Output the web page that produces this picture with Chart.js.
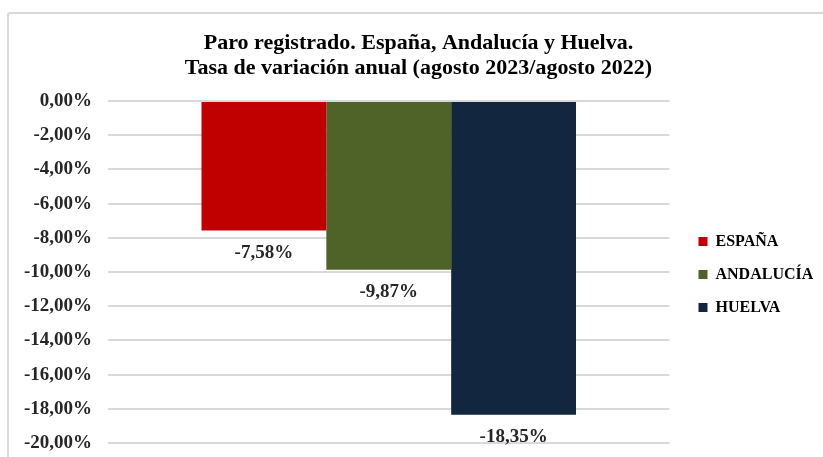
<!DOCTYPE html>
<html>
<head>
<meta charset="utf-8">
<script src="https://cdn.jsdelivr.net/npm/chart.js@4/dist/chart.umd.min.js"></script>
<style>
  html, body { margin: 0; padding: 0; background: #fff; }
  #wrap { position: relative; width: 823px; height: 457px; overflow: hidden; }
  #frame { position: absolute; left: 7px; top: 12px; width: 840px; height: 470px;
           border: 2px solid #d9d9d9; border-radius: 3px; box-sizing: border-box; }
  canvas { position: absolute; left: 0; top: 0; }
</style>
</head>
<body>
<div id="wrap">
  <div id="frame"></div>
  <canvas id="chart" width="823" height="457"></canvas>
</div>
<script>
const CATEGORIES = [""];
const SERIES = ["ESPAÑA", "ANDALUCÍA", "HUELVA"];
const VALUES = [[-7.58], [-9.87], [-18.35]];
const COLORS = ["#C00000", "#4F6228", "#132640"];
const TITLE = ["Paro registrado. España, Andalucía y Huelva.",
               "Tasa de variación anual (agosto 2023/agosto 2022)"];

const FONT = "'Liberation Serif', 'Times New Roman', serif";
const fmt = (v) => v.toFixed(2).replace(".", ",") + "%";

// labels under each bar end
const barLabels = {
  id: "barLabels",
  afterDatasetsDraw(chart) {
    const ctx = chart.ctx;
    ctx.save();
    ctx.font = `bold 19px ${FONT}`;
    ctx.fillStyle = "#262626";
    ctx.textAlign = "center";
    ctx.textBaseline = "middle";
    chart.data.datasets.forEach((ds, i) => {
      chart.getDatasetMeta(i).data.forEach((bar, j) => {
        ctx.fillText(fmt(ds.data[j]), bar.x, bar.y + 22);
      });
    });
    ctx.restore();
  }
};

new Chart(document.getElementById("chart"), {
  type: "bar",
  data: {
    labels: CATEGORIES,
    datasets: SERIES.map((name, i) => ({
      label: name,
      data: VALUES[i],
      backgroundColor: COLORS[i],
      borderWidth: 0,
      categoryPercentage: 0.667,
      barPercentage: 1,
    })),
  },
  options: {
    responsive: false,
    animation: false,
    layout: { padding: { left: 24, right: 10, top: 0, bottom: 14 } },
    plugins: {
      title: {
        display: true,
        text: TITLE,
        color: "#000",
        font: { family: FONT, size: 22, weight: "bold", lineHeight: 25 / 22 },
        padding: { top: 31, bottom: 20 },
      },
      legend: {
        position: "right",
        // empty title only pushes the items down to the middle of the plot
        title: { display: true, text: " ", font: { size: 10, lineHeight: 1 }, padding: 48 },
        labels: {
          boxWidth: 9,
          boxHeight: 9,
          padding: 17,
          color: "#000",
          font: { family: FONT, size: 16, weight: "bold" },
        },
      },
      tooltip: { enabled: false },
    },
    scales: {
      x: { display: false },
      y: {
        min: -20,
        max: 0,
        afterFit: (s) => { s.width = 84; },
        ticks: {
          stepSize: 2,
          padding: 0,
          color: "#262626",
          font: { family: FONT, size: 19, weight: "bold" },
          callback: (v) => fmt(v),
        },
        grid: { color: "#d9d9d9", lineWidth: 2, drawTicks: true, tickLength: 16, tickColor: "rgba(0,0,0,0)" },
        border: { display: false },
      },
      gap: {
        position: "right",
        display: true,
        afterFit: (s) => { s.width = 12; },
        ticks: { display: false },
        grid: { display: false },
        border: { display: false },
      },
    },
  },
  plugins: [barLabels],
});
</script>
</body>
</html>
